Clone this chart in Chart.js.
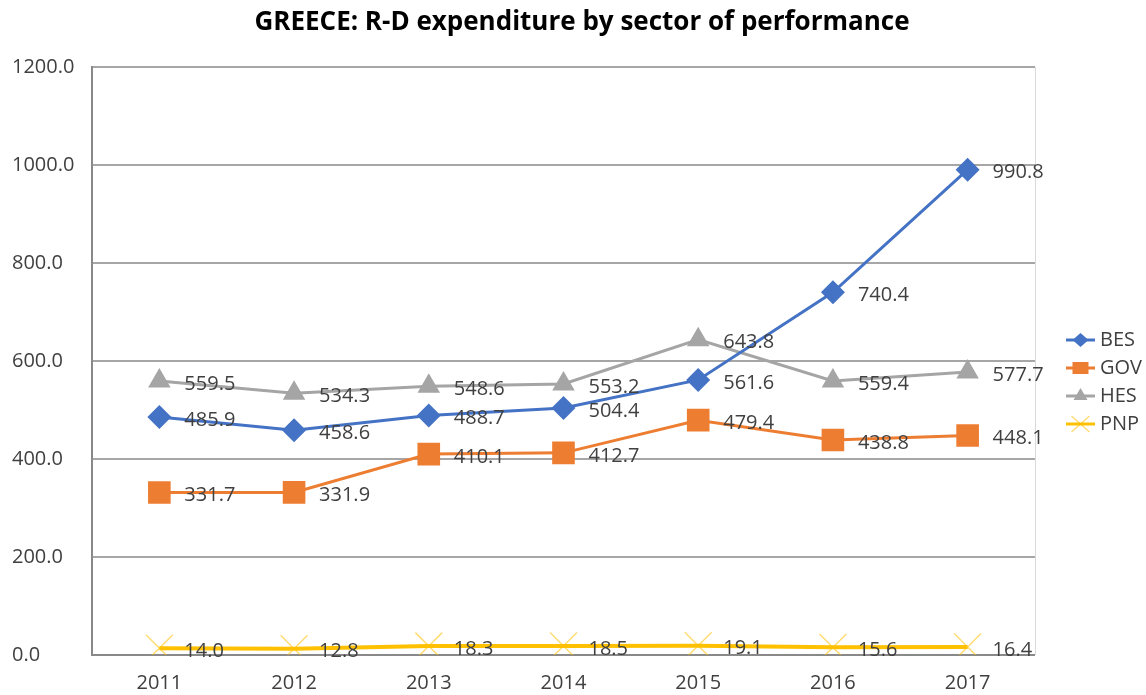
<!DOCTYPE html>
<html>
<head>
<meta charset="utf-8">
<script src="https://cdn.jsdelivr.net/npm/chart.js@4/dist/chart.umd.min.js"></script>
<style>
html,body{margin:0;padding:0;background:#fff;}
#wrap{width:1146px;height:695px;position:relative;}
</style>
</head>
<body>
<div id="wrap"><canvas id="c" width="1146" height="695"></canvas></div>
<script>
const categories = ['2011','2012','2013','2014','2015','2016','2017'];
const BES = [485.9, 458.6, 488.7, 504.4, 561.6, 740.4, 990.8];
const GOV = [331.7, 331.9, 410.1, 412.7, 479.4, 438.8, 448.1];
const HES = [559.5, 534.3, 548.6, 553.2, 643.8, 559.4, 577.7];
const PNP = [14.0, 12.8, 18.3, 18.5, 19.1, 15.6, 16.4];
const seriesNames = ['BES','GOV','HES','PNP'];
const yTicks = [0, 200, 400, 600, 800, 1000, 1200];

const colors = ['#4472C4','#ED7D31','#A5A5A5','#FFC000'];
const styles = ['rectRot','rect','triangle','crossRot'];
const radii = [12, 16, 13, 19];
const lineW = [3, 3, 3, 4];

// legend icon: transparent left margin, then line + marker
function makeIcon(i){
  const cv = document.createElement('canvas');
  const off = 28;
  cv.width = 57; cv.height = 22;
  const ctx = cv.getContext('2d');
  ctx.strokeStyle = colors[i]; ctx.lineWidth = 3;
  ctx.beginPath(); ctx.moveTo(off,11); ctx.lineTo(off+29,11); ctx.stroke();
  ctx.fillStyle = colors[i];
  const cx = off + 14.5, cy = 11;
  if (i === 0){ ctx.beginPath(); ctx.moveTo(cx,cy-7); ctx.lineTo(cx+8,cy); ctx.lineTo(cx,cy+7); ctx.lineTo(cx-8,cy); ctx.closePath(); ctx.fill(); }
  else if (i === 1){ ctx.fillRect(cx-8,cy-6,16,12); }
  else if (i === 2){ ctx.beginPath(); ctx.moveTo(cx,cy-8); ctx.lineTo(cx+7,cy+4); ctx.lineTo(cx-7,cy+4); ctx.closePath(); ctx.fill(); }
  else { ctx.strokeStyle='rgba(255,192,0,0.55)'; ctx.lineWidth=1.5; ctx.beginPath(); ctx.moveTo(cx-9,cy-8); ctx.lineTo(cx+9,cy+8); ctx.moveTo(cx+9,cy-8); ctx.lineTo(cx-9,cy+8); ctx.stroke(); }
  return cv;
}
const icons = [0,1,2,3].map(makeIcon);

const dataArrays = [BES, GOV, HES, PNP];
const datasets = dataArrays.map((arr, i) => ({
  label: seriesNames[i],
  data: arr,
  borderColor: colors[i],
  backgroundColor: colors[i],
  pointBackgroundColor: i === 3 ? 'rgba(255,192,0,0.55)' : colors[i],
  pointBorderColor: i === 3 ? 'rgba(255,192,0,0.55)' : colors[i],
  pointBorderWidth: i === 3 ? 1.5 : 0,
  borderWidth: lineW[i],
  pointStyle: styles[i],
  pointRadius: radii[i],
  pointHoverRadius: radii[i],
  tension: 0,
  order: i
}));

const valueLabels = {
  id: 'valueLabels',
  afterDatasetsDraw(chart){
    const ctx = chart.ctx;
    ctx.save();
    ctx.font = '20px "Open Sans"';
    ctx.fillStyle = '#404040';
    ctx.textAlign = 'left';
    ctx.textBaseline = 'middle';
    chart.data.datasets.forEach((ds, di) => {
      const meta = chart.getDatasetMeta(di);
      meta.data.forEach((pt, j) => {
        ctx.fillText(ds.data[j].toFixed(1), pt.x + 25, pt.y + 3);
      });
    });
    ctx.restore();
  }
};

const frame = {
  id: 'frame',
  beforeDatasetsDraw(chart){
    const a = chart.chartArea, ctx = chart.ctx;
    ctx.save();
    ctx.strokeStyle = '#d9d9d9'; ctx.lineWidth = 1;
    ctx.beginPath(); ctx.moveTo(a.right+0.5, a.top); ctx.lineTo(a.right+0.5, a.bottom); ctx.stroke();
    ctx.restore();
  }
};

new Chart(document.getElementById('c'), {
  type: 'line',
  data: { labels: categories, datasets },
  plugins: [valueLabels, frame],
  options: {
    responsive: false,
    animation: false,
    layout: { padding: { top: 7, right: -6, left: 12, bottom: 0 } },
    plugins: {
      title: { display: true, text: 'GREECE: R-D expenditure by sector of performance',
        font: { family: '"Open Sans"', size: 26, weight: 'bold' }, color: '#000', padding: { top: 0, bottom: 29 } },
      legend: { position: 'right', align: 'center',
        title: { display: true, text: ' ', font: { size: 20 }, padding: { top: 38, bottom: 0 } },
        labels: { usePointStyle: true, pointStyleWidth: 47, padding: 8, color: '#404040',
          font: { family: '"Open Sans"', size: 20 },
          generateLabels(chart){
            const base = Chart.defaults.plugins.legend.labels.generateLabels(chart);
            base.forEach((l, i) => { l.pointStyle = icons[i]; });
            return base;
          } } },
      tooltip: { enabled: false }
    },
    scales: {
      x: { offset: true,
        afterFit(s){ s.height = 40; },
        grid: { display: false, drawTicks: false },
        border: { color: '#898989', width: 2 },
        ticks: { color: '#404040', font: { family: '"Open Sans"', size: 20 }, padding: 16 } },
      y: { min: 0, max: 1200,
        afterBuildTicks(s){ s.ticks = yTicks.map(v => ({ value: v })); },
        afterFit(s){ s.width = 80; },
        grid: { color: '#a6a6a6', lineWidth: 2, drawTicks: false },
        border: { color: '#898989', width: 2 },
        ticks: { color: '#404040', font: { family: '"Open Sans"', size: 20 }, padding: 14, crossAlign: 'far',
          callback: v => Number(v).toFixed(1) } }
    }
  }
});
</script>
</body>
</html>
